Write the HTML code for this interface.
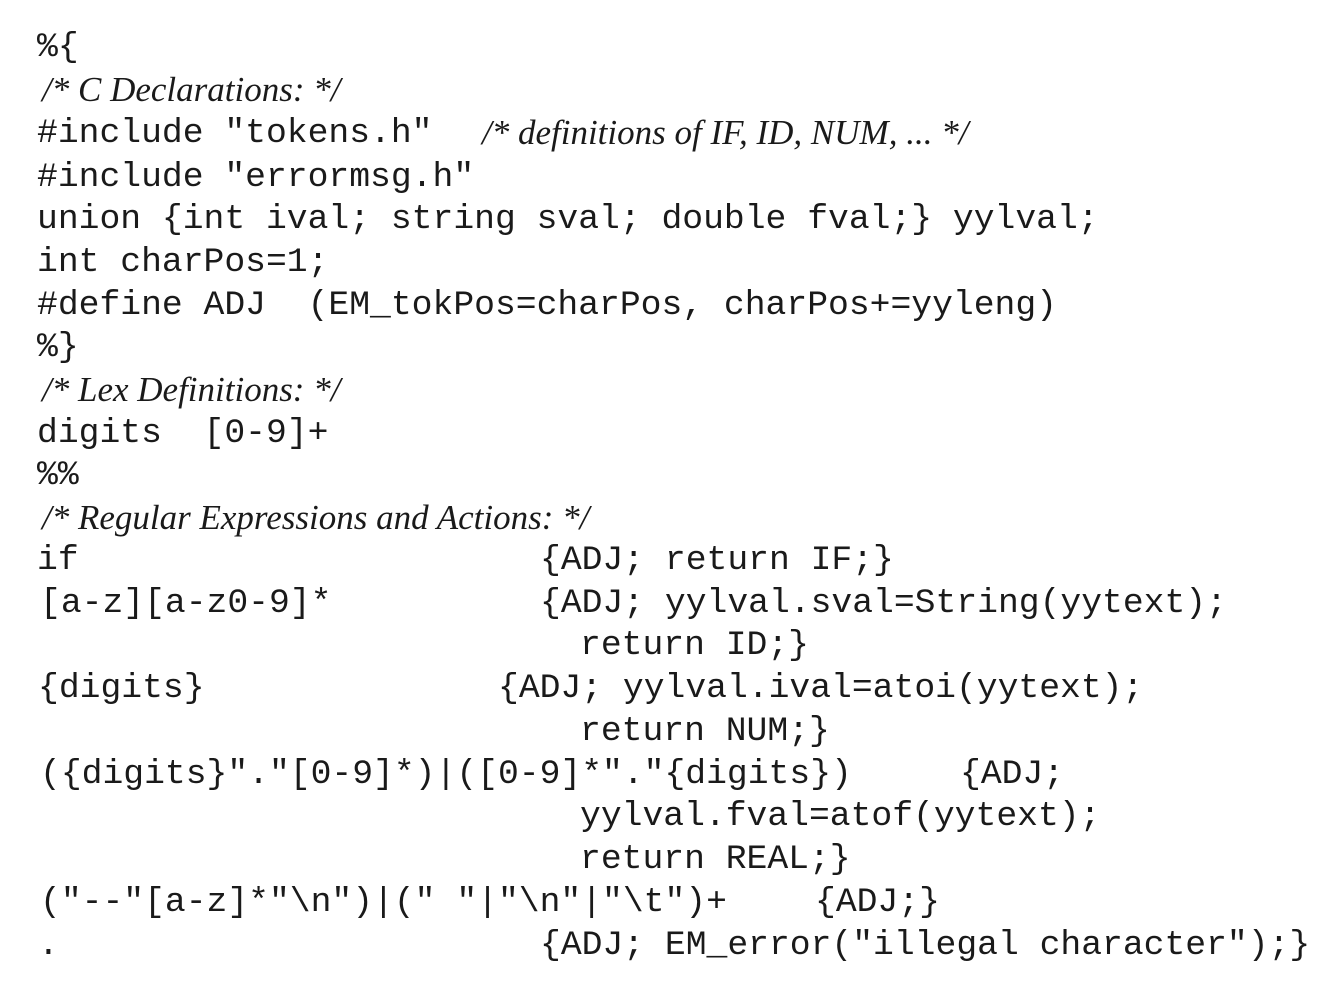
<!DOCTYPE html>
<html><head><meta charset="utf-8"><style>
html,body{margin:0;padding:0;background:#fff;width:1330px;height:986px;overflow:hidden;position:relative}
.m{position:absolute;font-family:"Liberation Mono",monospace;font-size:34.7px;line-height:42px;height:42px;white-space:pre;color:#1a1a1a}
.c{position:absolute;font-family:"Liberation Serif",serif;font-style:italic;font-size:35px;line-height:42px;height:42px;white-space:pre;color:#1a1a1a}
</style></head><body>
<div class="m" style="left:37px;top:27px">%{</div>
<div class="c" style="left:42px;top:69px">/* C Declarations: */</div>
<div class="m" style="left:37px;top:113px">#include "tokens.h"</div>
<div class="c" style="left:482px;top:112px">/* definitions of IF, ID, NUM, ... */</div>
<div class="m" style="left:37px;top:157px">#include "errormsg.h"</div>
<div class="m" style="left:37px;top:199px">union {int ival; string sval; double fval;} yylval;</div>
<div class="m" style="left:37px;top:242px">int charPos=1;</div>
<div class="m" style="left:37px;top:285px">#define ADJ  (EM_tokPos=charPos, charPos+=yyleng)</div>
<div class="m" style="left:37px;top:327px">%}</div>
<div class="c" style="left:42px;top:369px">/* Lex Definitions: */</div>
<div class="m" style="left:37px;top:413px">digits  [0-9]+</div>
<div class="m" style="left:37px;top:455px">%%</div>
<div class="c" style="left:42px;top:497px">/* Regular Expressions and Actions: */</div>
<div class="m" style="left:37px;top:540px">if</div>
<div class="m" style="left:540px;top:540px">{ADJ; return IF;}</div>
<div class="m" style="left:40px;top:583px">[a-z][a-z0-9]*</div>
<div class="m" style="left:540px;top:583px">{ADJ; yylval.sval=String(yytext);</div>
<div class="m" style="left:580px;top:625px">return ID;}</div>
<div class="m" style="left:38px;top:668px">{digits}</div>
<div class="m" style="left:498px;top:668px">{ADJ; yylval.ival=atoi(yytext);</div>
<div class="m" style="left:580px;top:711px">return NUM;}</div>
<div class="m" style="left:40px;top:754px">({digits}"."[0-9]*)|([0-9]*"."{digits})</div>
<div class="m" style="left:960px;top:754px">{ADJ;</div>
<div class="m" style="left:580px;top:796px">yylval.fval=atof(yytext);</div>
<div class="m" style="left:580px;top:839px">return REAL;}</div>
<div class="m" style="left:40px;top:882px">("--"[a-z]*"\n")|(" "|"\n"|"\t")+</div>
<div class="m" style="left:815px;top:882px">{ADJ;}</div>
<div class="m" style="left:38px;top:925px">.</div>
<div class="m" style="left:540px;top:925px">{ADJ; EM_error("illegal character");}</div>
</body></html>
